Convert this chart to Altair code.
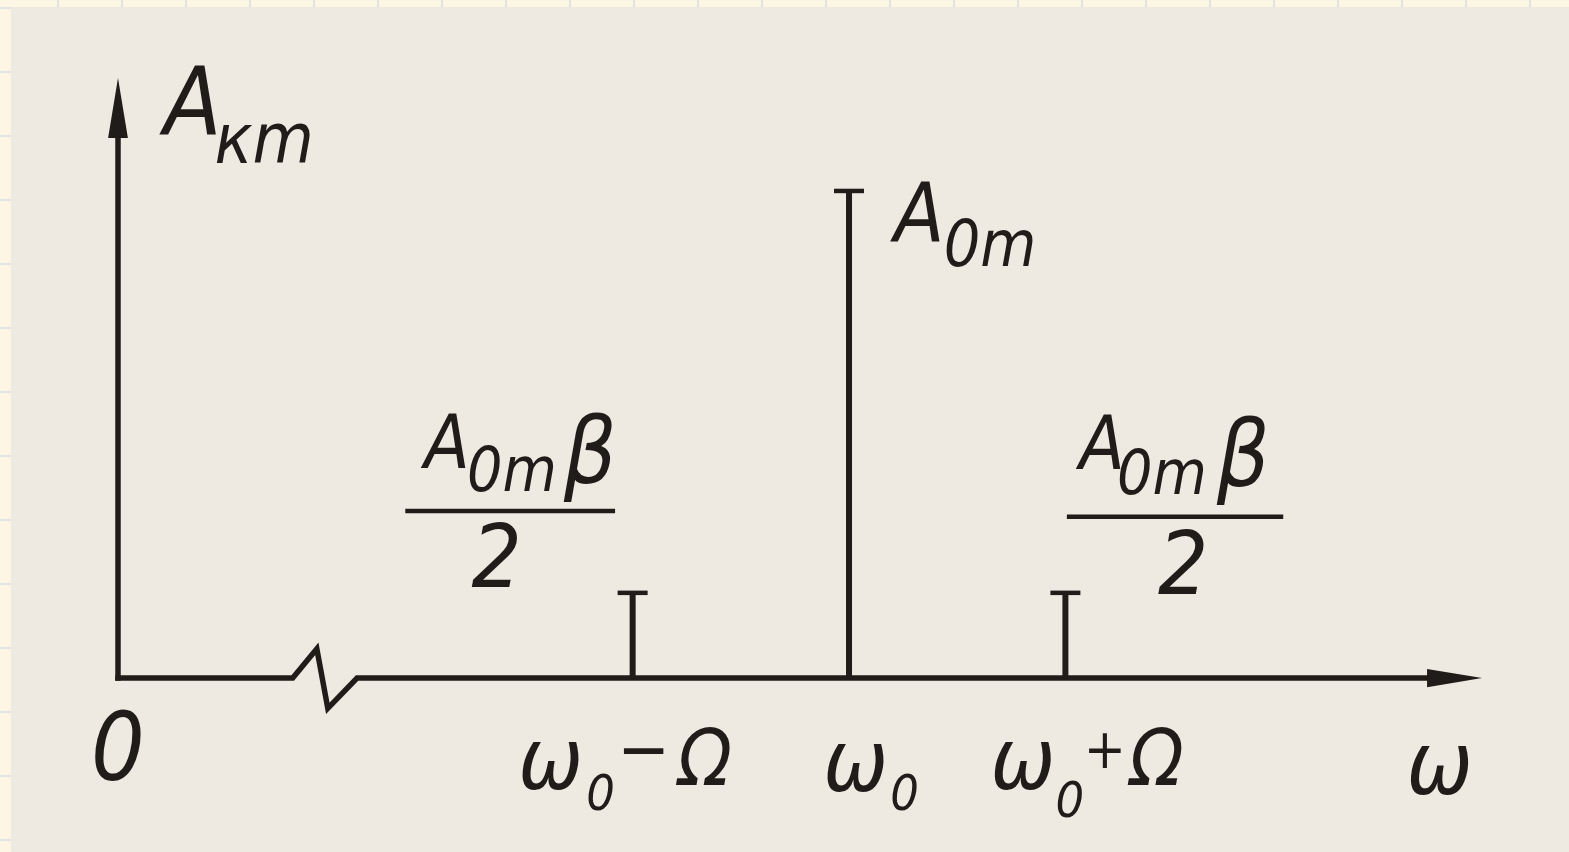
import altair as alt
import pandas as pd

# Spectrum of a carrier with small-index angle modulation: carrier + two side lines
w0 = 10.0        # carrier frequency, ω0
Om = 2.96        # modulating frequency, Ω
A0m = 1.0        # carrier amplitude, A0m
beta = 0.35      # modulation index, β

line_w = [w0 - Om, w0, w0 + Om]
line_a = [A0m * beta / 2, A0m, A0m * beta / 2]

# ω axis, with the break mark close to the origin
axis_w = [0.0, 2.39, 2.72, 2.87, 3.27, 18.2]
axis_a = [0.0, 0.0, 0.06, -0.062, 0.0, 0.0]
w_tip = 18.66    # end of the ω axis arrow
a_tip = 1.232    # end of the A axis arrow
a_top = 1.15     # where the A axis arrowhead starts

INK = "#201c19"
SCAN = "#efeae1"
SHEET = "#fdf6e4"
GRID = "#d9dee3"
FONT = "Liberation Sans Narrow, DejaVu Sans Condensed, Liberation Sans, sans-serif"

xs = alt.Scale(domain=[-1.6142, 19.849], nice=False, zero=False)
ys = alt.Scale(domain=[-0.357, 1.392], nice=False, zero=False)


def X(field):
    return alt.X(field, type="quantitative", scale=xs, axis=None)


def Y(field):
    return alt.Y(field, type="quantitative", scale=ys, axis=None)


one = pd.DataFrame({"k": [0]})

# ---- sheet behind the scan: ruled margin strips ----
sheet_bg = alt.Chart(one).mark_rect(color=SCAN).encode(
    x=alt.value(11), x2=alt.value(1569), y=alt.value(7), y2=alt.value(852)
)
top_rules = alt.Chart(pd.DataFrame({"gx": list(range(58, 1569, 64))})).mark_rule(
    color=GRID, strokeWidth=1.5
).encode(x=alt.X("gx:Q", scale=None), y=alt.value(0), y2=alt.value(7))
left_rules = alt.Chart(pd.DataFrame({"gy": list(range(8, 852, 64))})).mark_rule(
    color=GRID, strokeWidth=1.5
).encode(y=alt.Y("gy:Q", scale=None), x=alt.value(0), x2=alt.value(11))
sheet = alt.layer(sheet_bg, top_rules, left_rules)

# ---- axes ----
axis_df = pd.DataFrame({"w": axis_w, "a": axis_a, "o": list(range(len(axis_w)))})
w_axis = alt.Chart(axis_df).mark_line(
    color=INK, strokeWidth=5.5, strokeJoin="miter", strokeCap="square"
).encode(x=X("w"), y=Y("a"), order="o:Q")

a_axis = alt.Chart(pd.DataFrame({"w": [0.0], "a": [0.0], "a2": [a_top]})).mark_rule(
    color=INK, strokeWidth=5.5, strokeCap="square"
).encode(x=X("w"), y=Y("a"), y2="a2:Q")

up_head = alt.Chart(pd.DataFrame({"w": [0.0], "a": [a_tip]})).mark_point(
    shape="M0,0L0.33,2L-0.33,2Z", size=3600, filled=True, opacity=1, color=INK
).encode(x=X("w"), y=Y("a"))

right_head = alt.Chart(pd.DataFrame({"w": [w_tip], "a": [0.0]})).mark_point(
    shape="M0,0L-2,-0.33L-2,0.33Z", size=3025, filled=True, opacity=1, color=INK
).encode(x=X("w"), y=Y("a"))

# ---- spectral lines with their caps ----
lines_df = pd.DataFrame({"w": line_w, "a": line_a, "base": [0.0] * 3})
lines = alt.Chart(lines_df).mark_rule(color=INK, strokeWidth=6).encode(
    x=X("w"), y=Y("a"), y2="base:Q"
)
caps = alt.Chart(lines_df).mark_tick(
    color=INK, orient="horizontal", size=30, thickness=4.5, opacity=1
).encode(x=X("w"), y=Y("a"))

# ---- fraction bars of the side-line labels ----
bars = alt.Chart(pd.DataFrame({
    "w": [3.93, 12.98], "w2": [6.80, 15.94], "a": [0.343, 0.331]
})).mark_rule(color=INK, strokeWidth=4.5).encode(x=X("w"), x2="w2:Q", y=Y("a"))

# ---- lettering ----
lab_text = ["A", "кm",
            "A", "0m",
            "A", "0m", "β", "2",
            "A", "0m", "β", "2",
            "0",
            "ω", "0", "−", "Ω",
            "ω", "0",
            "ω", "0", "+", "Ω",
            "ω"]
lab_w = [1.02, 2.00,
         10.96, 11.93,
         4.50, 5.39, 6.46, 5.18,
         13.46, 14.28, 15.39, 14.57,
         0.0,
         5.92, 6.60, 7.19, 8.03,
         10.09, 10.76,
         12.38, 13.02, 13.50, 14.21,
         18.08]
lab_a = [1.172, 1.100,
         0.949, 0.885,
         0.476, 0.423, 0.458, 0.240,
         0.474, 0.417, 0.452, 0.226,
         -0.152,
         -0.175, -0.240, -0.152, -0.172,
         -0.179, -0.240,
         -0.175, -0.255, -0.150, -0.172,
         -0.185]
lab_size = [94, 70,
            82, 64,
            74, 62, 92, 88,
            74, 62, 92, 88,
            94,
            86, 50, 70, 78,
            86, 50,
            86, 50, 56, 78,
            88]
labels_df = pd.DataFrame({"t": lab_text, "w": lab_w, "a": lab_a, "s": lab_size})
labels = alt.Chart(labels_df).mark_text(
    font=FONT, fontStyle="italic", color=INK, align="center", baseline="middle"
).encode(x=X("w"), y=Y("a"), text="t:N", size=alt.Size("s:Q", scale=None))

drawing = alt.layer(w_axis, a_axis, up_head, right_head, lines, caps, bars, labels)

chart = alt.layer(sheet, drawing).resolve_scale(
    x="independent", y="independent"
).properties(
    width=1569, height=852, padding=0,
    autosize=alt.AutoSizeParams(type="none"),
    background=SHEET,
).configure_view(stroke=None)

chart.save("out.html", embed_options={"renderer": "svg", "actions": False})
